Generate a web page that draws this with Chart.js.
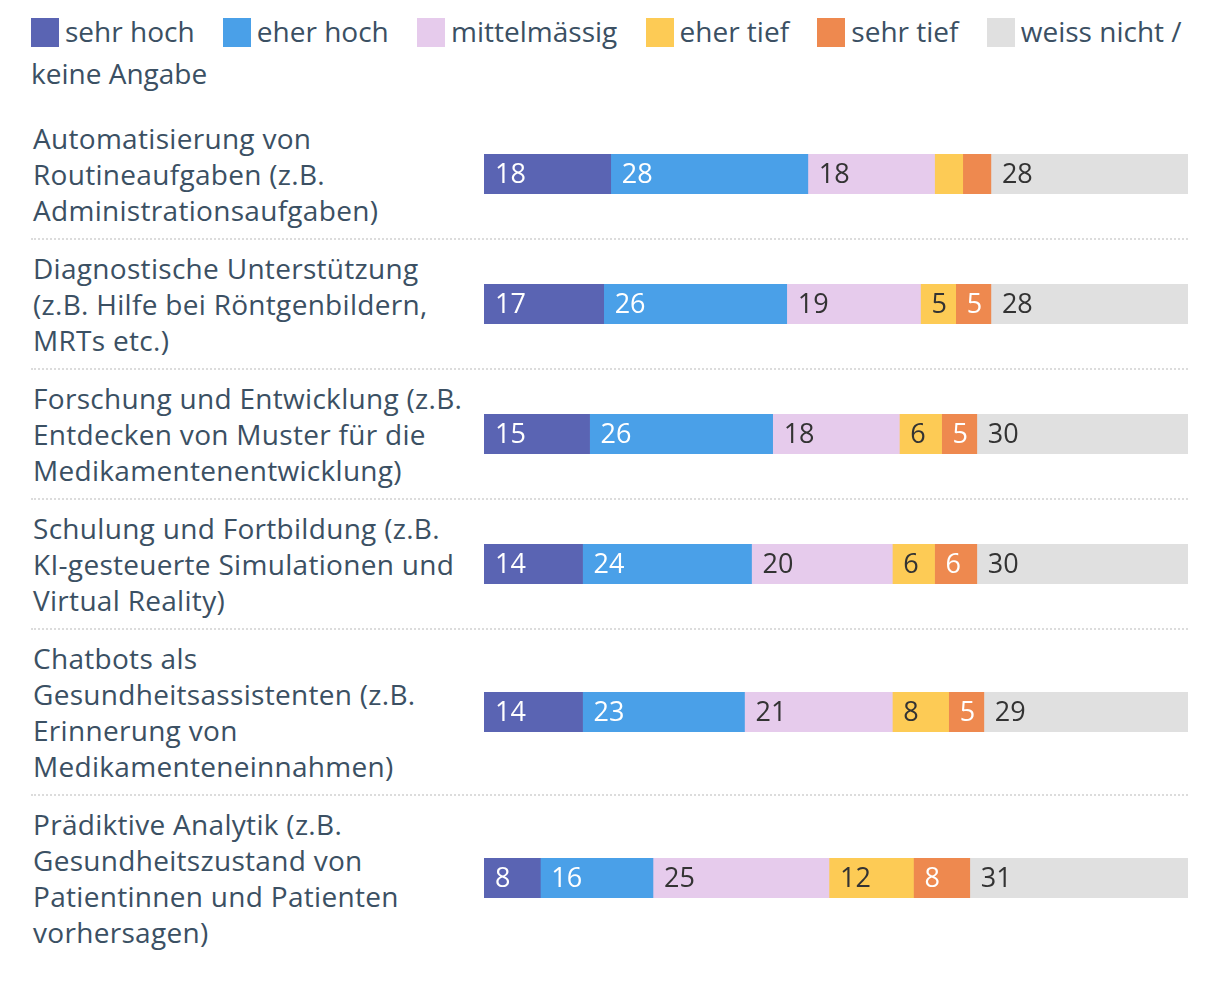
<!DOCTYPE html>
<html>
<head>
<meta charset="utf-8">
<script src="https://cdn.jsdelivr.net/npm/chart.js@4"></script>
<style>
  body { margin: 0; background: #fff; font-family: "Open Sans", sans-serif; color: #3b5063; }
  #wrap { position: absolute; left: 31px; top: 0; width: 1157px; }
  .legend { padding-top: 10px; font-size: 28px; line-height: 42px; height: 100px; }
  .legend span.item { white-space: nowrap; margin-right: 21px; }
  .legend span.box { display: inline-block; width: 28px; height: 29px; vertical-align: -5px; margin-right: 6px; }
  .row { display: flex; align-items: center; border-bottom: 2px dotted #dcdcdc; }
  .row:last-child { border-bottom: none; }
  .label { width: 451px; padding: 10px 0 10px 2px; font-size: 28px; line-height: 36px; letter-spacing: 0.3px; }
  .bar { width: 704px; height: 40px; position: relative; }
</style>
</head>
<body>
<div id="wrap">
  <div class="legend" id="legend"></div>
  <div id="rows"></div>
</div>
<script>
const categories = [
  ["Automatisierung von", "Routineaufgaben (z.B.", "Administrationsaufgaben)"],
  ["Diagnostische Unterstützung", "(z.B. Hilfe bei Röntgenbildern,", "MRTs etc.)"],
  ["Forschung und Entwicklung (z.B.", "Entdecken von Muster für die", "Medikamentenentwicklung)"],
  ["Schulung und Fortbildung (z.B.", "KI-gesteuerte Simulationen und", "Virtual Reality)"],
  ["Chatbots als", "Gesundheitsassistenten (z.B.", "Erinnerung von", "Medikamenteneinnahmen)"],
  ["Prädiktive Analytik (z.B.", "Gesundheitszustand von", "Patientinnen und Patienten", "vorhersagen)"]
];

const seriesNames = ["sehr hoch", "eher hoch", "mittelmässig", "eher tief", "sehr tief", "weiss nicht / keine Angabe"];
const sehrHoch   = [18, 17, 15, 14, 14, 8];
const eherHoch   = [28, 26, 26, 24, 23, 16];
const mittel     = [18, 19, 18, 20, 21, 25];
const eherTief   = [4, 5, 6, 6, 8, 12];
const sehrTief   = [4, 5, 5, 6, 5, 8];
const weissNicht = [28, 28, 30, 30, 29, 31];

const series = [sehrHoch, eherHoch, mittel, eherTief, sehrTief, weissNicht];
const colors = ["#5a64b3", "#4aa0e8", "#e6cbec", "#fdcb55", "#ee894f", "#e0e0e0"];
const textColors = ["#ffffff", "#ffffff", "#333333", "#333333", "#ffffff", "#333333"];

// legend
const legend = document.getElementById("legend");
seriesNames.forEach((name, i) => {
  const item = document.createElement("span");
  item.className = "item";
  item.innerHTML = '<span class="box" style="background:' + colors[i] + '"></span>' + name.replace(" / ", " /</span><br><span class=\"item\">");
  legend.appendChild(item);
  legend.appendChild(document.createTextNode(" "));
});

const valueLabels = {
  id: "valueLabels",
  afterDatasetsDraw(chart) {
    const c = chart.ctx;
    c.save();
    c.font = '27px "Open Sans", sans-serif';
    c.textBaseline = "middle";
    chart.data.datasets.forEach((ds, di) => {
      chart.getDatasetMeta(di).data.forEach((bar, i) => {
        const v = ds.data[i];
        if (v < 5) return;
        c.fillStyle = textColors[di];
        c.fillText(v, Math.min(bar.x, bar.base) + 11, bar.y + 1);
      });
    });
    c.restore();
  }
};

const rows = document.getElementById("rows");
categories.forEach((cat, r) => {
  const row = document.createElement("div");
  row.className = "row";
  const lab = document.createElement("div");
  lab.className = "label";
  lab.innerHTML = cat.join("<br>");
  const box = document.createElement("div");
  box.className = "bar";
  const canvas = document.createElement("canvas");
  box.appendChild(canvas);
  row.appendChild(lab);
  row.appendChild(box);
  rows.appendChild(row);

  new Chart(canvas, {
    type: "bar",
    data: {
      labels: [cat.join(" ")],
      datasets: series.map((s, i) => ({
        label: seriesNames[i],
        data: [s[r]],
        backgroundColor: colors[i],
        borderWidth: 0,
        barPercentage: 1,
        categoryPercentage: 1
      }))
    },
    options: {
      indexAxis: "y",
      responsive: true,
      maintainAspectRatio: false,
      animation: false,
      layout: { padding: 0 },
      scales: {
        x: { stacked: true, min: 0, max: 100, display: false },
        y: { stacked: true, display: false }
      },
      plugins: { legend: { display: false }, tooltip: { enabled: false } }
    },
    plugins: [valueLabels]
  });
});
</script>
</body>
</html>
